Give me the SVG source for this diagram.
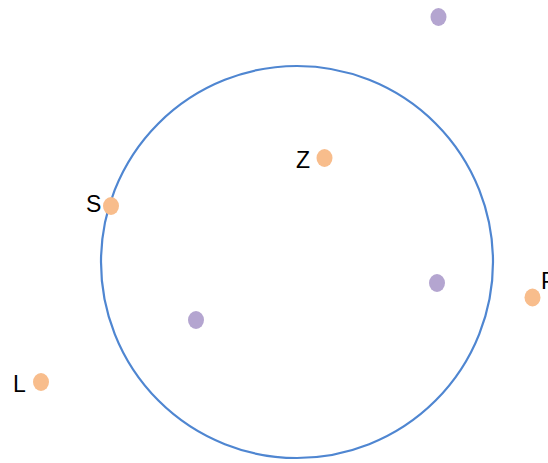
<svg xmlns="http://www.w3.org/2000/svg" width="548" height="463" viewBox="0 0 548 463">
<style>
.o{fill:#F8BD8C}
.p{fill:#B4A5D0}
.t{font-family:"Liberation Sans",Arial,sans-serif;font-size:23px;fill:#000}
</style>
<rect width="548" height="463" fill="#fff"/>
<g id="connectors">
<circle cx="297" cy="262" r="196" fill="none" stroke="#4F86D1" stroke-width="2.2"/>
</g>
<g id="node-purple-top"><ellipse class="p" cx="438.5" cy="17" rx="8" ry="9"/></g>
<g id="node-Z"><text class="t" x="296" y="168">Z</text><ellipse class="o" cx="324.5" cy="158" rx="8" ry="9"/></g>
<g id="node-S"><text class="t" x="86" y="212">S</text><ellipse class="o" cx="111" cy="206" rx="8" ry="9"/></g>
<g id="node-purple-right"><ellipse class="p" cx="437" cy="283" rx="8" ry="9"/></g>
<g id="node-P"><text class="t" x="541" y="289">P</text><ellipse class="o" cx="532.5" cy="297.5" rx="8" ry="9"/></g>
<g id="node-purple-left"><ellipse class="p" cx="196" cy="320" rx="8" ry="9"/></g>
<g id="node-L"><text class="t" x="13" y="392">L</text><ellipse class="o" cx="41" cy="382" rx="8" ry="9"/></g>
</svg>
